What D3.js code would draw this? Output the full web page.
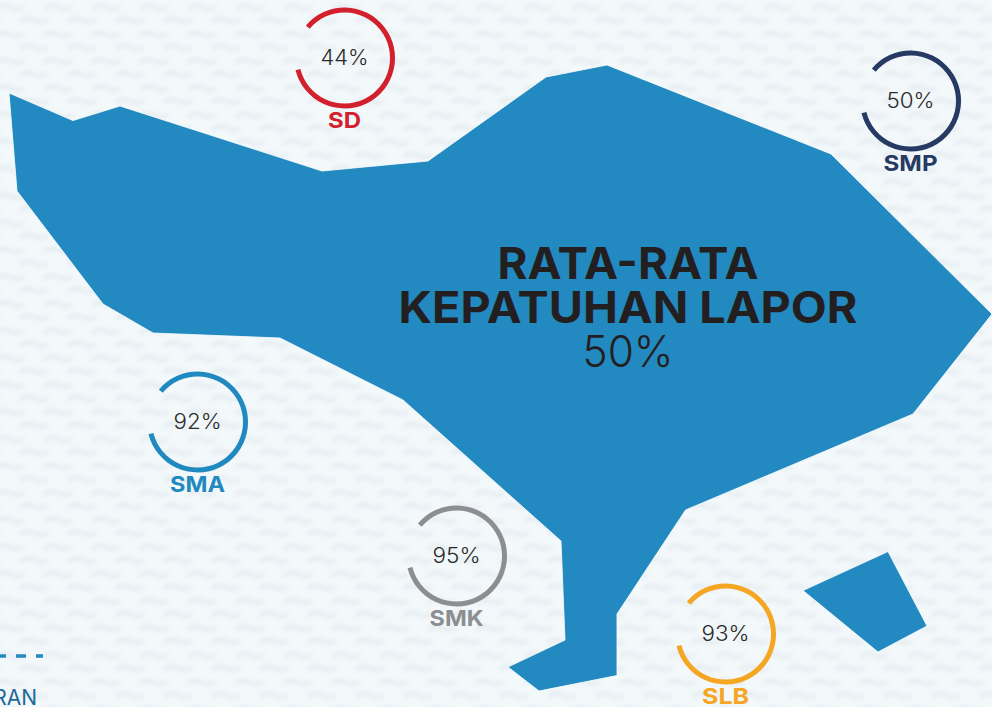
<!DOCTYPE html>
<html>
<head>
<meta charset="utf-8" />
<script src="https://cdn.jsdelivr.net/npm/d3@7"></script>
<style>
  html, body { margin: 0; padding: 0; background: #f1f6f9; overflow: hidden; }
  svg { display: block; }
</style>
</head>
<body>
<div id="my_dataviz"></div>
<script>
const width = 992;
const height = 707;

// compliance per school level
const levels = ["SD", "SMP", "SMA", "SMK", "SLB"];
const compliance = [44, 50, 92, 95, 93];
const levelColors = ["#d2212d", "#263a64", "#2089c0", "#8c8e91", "#f5a623"];

const titleLines = ["RATA-RATA", "KEPATUHAN LAPOR"];
const averageCompliance = 50;
const legendText = "RAN";

// Bali outline, rough lon/lat
const baliLon = [114.4317, 114.5149, 114.576, 114.8386, 114.9764, 115.1298, 115.2091, 115.5003, 115.7096, 115.6069, 115.3112, 115.2221, 115.2221, 115.1207, 115.0804, 115.1545, 115.1493, 114.9439, 114.784, 114.6189, 114.5539, 114.4421];
const baliLat = [-8.1709, -8.2067, -8.1878, -8.2723, -8.2593, -8.1501, -8.1345, -8.2502, -8.4582, -8.5882, -8.713, -8.8482, -8.9282, -8.9483, -8.9171, -8.882, -8.7533, -8.57, -8.4894, -8.4829, -8.4452, -8.2983];
const penidaLon = [115.5744, 115.6251, 115.5614, 115.4639];
const penidaLat = [-8.767, -8.8638, -8.8976, -8.8177];

// where each gauge sits on the map
const gaugeLon = [114.8679, 115.6037, 114.6768, 115.0135, 115.3632];
const gaugeLat = [-8.1254, -8.1813, -8.5986, -8.7728, -8.8742];

const x = d3.scaleLinear().domain([114.42, 115.7096]).range([0, width]);
const y = d3.scaleLinear().domain([-8.05, -8.9691]).range([0, height]);

const svg = d3
  .select("#my_dataviz")
  .append("svg")
  .attr("width", width)
  .attr("height", height)
  .style("font-family", "Inter, sans-serif");

// paper texture
const defs = svg.append("defs");
defs
  .append("filter")
  .attr("id", "soft")
  .append("feGaussianBlur")
  .attr("stdDeviation", 2.2);

const pattern = defs
  .append("pattern")
  .attr("id", "paper")
  .attr("width", 48)
  .attr("height", 27)
  .attr("patternUnits", "userSpaceOnUse");

pattern.append("rect").attr("width", 48).attr("height", 27).attr("fill", "#f3f8fa");

const waves = pattern
  .append("g")
  .attr("fill", "none")
  .attr("stroke", "#e0e9ee")
  .attr("stroke-width", 3);

waves.append("path").attr("d", "M-4,9 q7,-6 14,-2 t14,0");
waves.append("path").attr("d", "M44,9 q7,-6 14,-2 t14,0");
waves.append("path").attr("d", "M20,22 q7,-6 14,-2 t14,0");

// blur the whole sheet, a bit oversized so the edges stay clean
svg
  .append("rect")
  .attr("x", -12)
  .attr("y", -12)
  .attr("width", width + 24)
  .attr("height", height + 24)
  .attr("fill", "url(#paper)")
  .attr("filter", "url(#soft)");

// map
const line = d3
  .line()
  .x((d) => x(d[0]))
  .y((d) => y(d[1]))
  .curve(d3.curveLinearClosed);

svg
  .selectAll("path.island")
  .data([d3.zip(baliLon, baliLat), d3.zip(penidaLon, penidaLat)])
  .enter()
  .append("path")
  .attr("class", "island")
  .attr("d", line)
  .attr("fill", "#228ac0")
  .attr("stroke", "#ffffff")
  .attr("stroke-width", 0.8);

// title on top of the island
const titleX = 628;
svg
  .selectAll("text.title")
  .data(titleLines)
  .enter()
  .append("text")
  .attr("class", "title")
  .attr("x", titleX)
  .attr("y", (d, i) => 279 + i * 44)
  .attr("text-anchor", "middle")
  .attr("fill", "#231f20")
  .style("font-size", "44px")
  .style("font-weight", 700)
  .attr("textLength", (d, i) => (i ? 459 : 261))
  .attr("lengthAdjust", "spacingAndGlyphs")
  .text((d) => d);

svg
  .append("text")
  .attr("x", titleX)
  .attr("y", 367)
  .attr("text-anchor", "middle")
  .attr("fill", "#231f20")
  .style("font-size", "44px")
  .style("font-weight", 300)
  .attr("textLength", 91)
  .attr("lengthAdjust", "spacingAndGlyphs")
  .text(averageCompliance + "%");

// gauges, the ring is the same open circle for every level
const ring = d3
  .arc()
  .innerRadius(45.5)
  .outerRadius(50.5)
  .startAngle((-50 * Math.PI) / 180)
  .endAngle((256 * Math.PI) / 180);

// label widths
const labelWidths = [33, 54, 55, 54, 47];

const gauge = svg
  .selectAll("g.gauge")
  .data(levels)
  .enter()
  .append("g")
  .attr("class", "gauge")
  .attr("transform", (d, i) => `translate(${x(gaugeLon[i])},${y(gaugeLat[i])})`);

gauge
  .append("path")
  .attr("d", ring)
  .attr("fill", (d, i) => levelColors[i]);

gauge
  .append("text")
  .attr("y", 7)
  .attr("text-anchor", "middle")
  .attr("fill", "#2b2b2b")
  .style("font-size", "21px")
  .style("font-weight", 300)
  .attr("textLength", 48)
  .attr("lengthAdjust", "spacingAndGlyphs")
  .text((d, i) => compliance[i] + "%");

gauge
  .append("text")
  .attr("y", 70)
  .attr("text-anchor", "middle")
  .attr("fill", (d, i) => levelColors[i])
  .style("font-size", "22px")
  .style("font-weight", 700)
  .attr("textLength", (d, i) => labelWidths[i])
  .attr("lengthAdjust", "spacingAndGlyphs")
  .text((d) => d);

// legend remains cut off in the corner
svg
  .append("line")
  .attr("x1", -4)
  .attr("x2", 43)
  .attr("y1", 656)
  .attr("y2", 656)
  .attr("stroke", "#228ac0")
  .attr("stroke-width", 3.5)
  .attr("stroke-dasharray", "10 10");

svg
  .append("text")
  .attr("x", 37)
  .attr("y", 705)
  .attr("text-anchor", "end")
  .attr("fill", "#1d6a9c")
  .style("font-size", "21px")
  .style("font-weight", 400)
  .text(legendText);
</script>
</body>
</html>
